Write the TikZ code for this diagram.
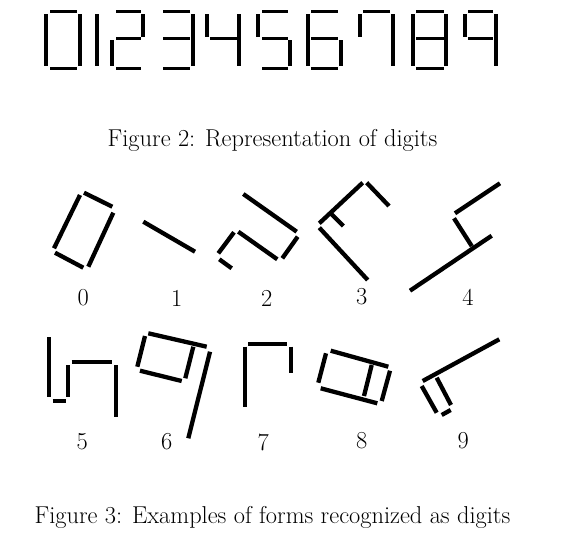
\documentclass[tikz,border=0pt]{standalone}
\usepackage{mathtools,tikz}

\begin{document}
\begin{tikzpicture}[x=1pt,y=-1pt,
    seg/.style={line width=3.4pt},
    stroke/.style={line width=4.3pt},
    lbl/.style={font=\fontsize{24.4}{28}\selectfont,inner sep=0pt},
    scale=1]
        \useasboundingbox (0,0) rectangle (576,542);

        % seven-segment digits, top row
        \pgfmathsetmacro{\yt}{11.5}
        \pgfmathsetmacro{\ym}{38.5}
        \pgfmathsetmacro{\yb}{68.5}

        \draw[seg] (50,\yt) -- (77,\yt) (50,\yb) -- (77,\yb) (46,14) -- (46,66) (80,14) -- (80,66);
        \draw[seg] (97,14) -- (97,66);
        \draw[seg] (116,\yt) -- (141,\yt) (143,14) -- (143,37) (116,\ym) -- (141,\ym) (112,40) -- (112,66) (116,\yb) -- (141,\yb);
        \draw[seg] (163,\yt) -- (190,\yt) (163,\ym) -- (190,\ym) (163,\yb) -- (190,\yb) (193,14) -- (193,66);
        \draw[seg] (207,14) -- (207,37) (210,\ym) -- (237,\ym) (239,14) -- (239,66);
        \draw[seg] (262,\yt) -- (288,\yt) (258,14) -- (258,37) (262,\ym) -- (288,\ym) (290,40) -- (290,66) (262,\yb) -- (288,\yb);
        \draw[seg] (311,\yt) -- (338,\yt) (308,14) -- (308,66) (311,\ym) -- (338,\ym) (341,40) -- (341,66) (311,\yb) -- (338,\yb);
        \draw[seg] (363,\yt) -- (390,\yt) (360,14) -- (360,37) (393,14) -- (393,66);
        \draw[seg] (416,\yt) -- (444,\yt) (416,\ym) -- (444,\ym) (416,\yb) -- (444,\yb) (413,14) -- (413,66) (446,14) -- (446,66);
        \draw[seg] (468,\yt) -- (493,\yt) (465,14) -- (465,37) (468,\ym) -- (493,\ym) (496,14) -- (496,66);

        \node[lbl] (fig2) at (272.5,140) {Figure 2: Representation of digits};

        % forms, first row
        \draw[stroke] (80,195) -- (54,248.3) (84,192.7) -- (112.3,206.7) (113.3,212.7) -- (88.3,266.7) (55,252.7) -- (83.3,267.7);
        \draw[stroke] (143.3,221.7) -- (195,251.7);
        \draw[stroke] (243.3,194) -- (296.7,231.7) (297.7,236.7) -- (282.3,258.3) (238.3,231.7) -- (277.3,259.3)
              (234,232.3) -- (218.3,253.3) (219.3,259.3) -- (231.7,268.3);
        \draw[stroke] (362.7,182.7) -- (319.3,223.3) (366.7,182.7) -- (389,206) (331.7,214.3) -- (343.3,226) (319.3,227.7) -- (367.7,280);
        \draw[stroke] (500,183.3) -- (455,213.3) (454,218.3) -- (471.7,246) (410,290.7) -- (491.7,235.7);

        \node[lbl] (l0) at (83.3,298) {0};
        \node[lbl] (l1) at (176.7,298) {1};
        \node[lbl] (l2) at (266.7,298) {2};
        \node[lbl] (l3) at (361.7,297) {3};
        \node[lbl] (l4) at (468,297) {4};

        % forms, second row
        \draw[stroke] (49,337.3) -- (49,397.3) (52.7,401) -- (66,401) (68.3,365) -- (68.3,397.3) (71.7,362.3) -- (111.7,362.3) (115.7,365) -- (115.7,416.7);
        \draw[stroke] (148.3,333.3) -- (206.7,346.7) (145,336) -- (137.3,366.7) (140,370.7) -- (181.7,381) (193.3,346.7) -- (185.3,378.3) (210,351.7) -- (188.3,438.3);
        \draw[stroke] (248.3,344) -- (286.7,344) (245,346.7) -- (245,407.3) (291,346.7) -- (291,373.3);
        \draw[stroke] (330.7,350.7) -- (388.3,366.7) (326,353.3) -- (318.3,382.7) (320.7,388.3) -- (377.3,403.3) (371.7,365) -- (364,396) (390,370.7) -- (381.7,401);
        \draw[stroke] (422.7,381) -- (499.3,339.3) (421.7,386) -- (436.7,412.7) (436.7,377.7) -- (451,405) (441.7,415) -- (450.7,410);

        \node[lbl] (l5) at (82.3,442) {5};
        \node[lbl] (l6) at (166.7,442) {6};
        \node[lbl] (l7) at (263.3,442) {7};
        \node[lbl] (l8) at (361.7,441) {8};
        \node[lbl] (l9) at (463.3,441) {9};

        \node[lbl] (fig3) at (272.5,517) {Figure 3: Examples of forms recognized as digits};
      \end{tikzpicture}
\end{document}
